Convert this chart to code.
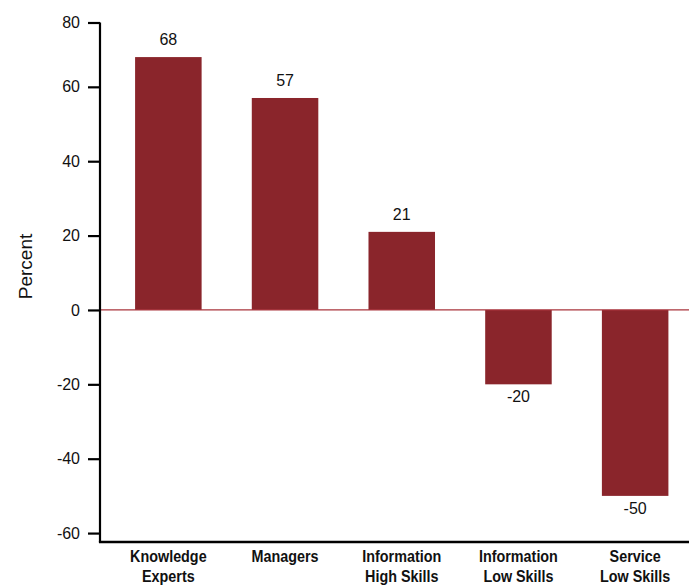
<!DOCTYPE html>
<html>
<head>
<meta charset="utf-8">
<script src="https://cdn.jsdelivr.net/npm/d3@7"></script>
<style>
  html, body { margin: 0; padding: 0; background: #fff; }
  svg { display: block; }
</style>
</head>
<body>
<div id="wrapper"></div>
<script>
// data
const categories = [
  ["Knowledge", "Experts"],
  ["Managers"],
  ["Information", "High Skills"],
  ["Information", "Low Skills"],
  ["Service", "Low Skills"],
];
const values = [68, 57, 21, -20, -50];
const tickValues = [-60, -40, -20, 0, 20, 40, 60, 80];

function drawChart() {
  const dimensions = {
    width: 689,
    height: 586,
    axisX: 100,
    top: 22.5,
    bottom: 542,
  };

  const svg = d3
    .select("#wrapper")
    .append("svg")
    .attr("width", dimensions.width)
    .attr("height", dimensions.height);

  // scales (the top of the axis is labelled 80 in the original, though it sits at ~77)
  const yTop = 77.3;
  const yScale = d3
    .scaleLinear()
    .domain([-62.4, yTop])
    .range([dimensions.bottom, dimensions.top]);

  const xScale = d3
    .scaleBand()
    .domain(d3.range(values.length))
    .range([110, 693.5])
    .paddingInner(0.43)
    .paddingOuter(0.215);

  // bars
  svg
    .append("g")
    .selectAll("rect")
    .data(values)
    .join("rect")
    .attr("x", (d, i) => xScale(i))
    .attr("width", xScale.bandwidth())
    .attr("y", (d) => yScale(Math.max(0, d)))
    .attr("height", (d) => Math.abs(yScale(d) - yScale(0)))
    .attr("fill", "#8a252b");

  // zero line
  svg
    .append("line")
    .attr("x1", dimensions.axisX)
    .attr("x2", dimensions.width)
    .attr("y1", yScale(0))
    .attr("y2", yScale(0))
    .attr("stroke", "#a9353c")
    .attr("stroke-width", 1.3);

  // value labels
  svg
    .append("g")
    .selectAll("text")
    .data(values)
    .join("text")
    .attr("x", (d, i) => xScale(i) + xScale.bandwidth() / 2)
    .attr("y", (d) => (d >= 0 ? yScale(d) - 12 : yScale(d) + 18))
    .attr("text-anchor", "middle")
    .style("font-family", "'Liberation Sans', Arial, sans-serif")
    .style("font-size", "16px")
    .style("fill", "#111")
    .text((d) => d);

  // y axis
  const yAxisGenerator = d3
    .axisLeft(yScale)
    .tickValues(tickValues.map((t) => (t === 80 ? yTop : t)))
    .tickFormat((t) => (t === yTop ? "80" : t))
    .tickSize(12)
    .tickSizeOuter(0)
    .tickPadding(8);

  const yAxis = svg
    .append("g")
    .attr("transform", `translate(${dimensions.axisX},0)`)
    .call(yAxisGenerator);

  yAxis.select(".domain")
    .attr("stroke", "#000")
    .attr("stroke-width", 2.2)
    .attr("d", `M0,${dimensions.top}V${dimensions.bottom}`);
  yAxis.selectAll(".tick line").attr("stroke", "#000").attr("stroke-width", 2.2);
  yAxis
    .selectAll(".tick text")
    .style("font-family", "'Liberation Sans', Arial, sans-serif")
    .style("font-size", "16px")
    .style("fill", "#111");

  // y axis label
  svg
    .append("text")
    .attr("transform", `translate(32,${(233 + 300) / 2}) rotate(-90)`)
    .attr("text-anchor", "middle")
    .style("font-family", "'Liberation Sans', Arial, sans-serif")
    .style("font-size", "19px")
    .style("fill", "#111")
    .text("Percent");

  // x axis line
  svg
    .append("line")
    .attr("x1", dimensions.axisX - 1.1)
    .attr("x2", dimensions.width)
    .attr("y1", dimensions.bottom)
    .attr("y2", dimensions.bottom)
    .attr("stroke", "#000")
    .attr("stroke-width", 2.6);

  // category labels, squeezed to look like a condensed bold face
  const catLabels = svg
    .append("g")
    .selectAll("text")
    .data(categories)
    .join("text")
    .attr("transform", (d, i) =>
      `translate(${xScale(i) + xScale.bandwidth() / 2},562) scale(0.87,1)`)
    .attr("text-anchor", "middle")
    .style("font-family", "'Liberation Sans', Arial, sans-serif")
    .style("font-weight", "bold")
    .style("font-size", "16.5px")
    .style("fill", "#111");

  catLabels
    .selectAll("tspan")
    .data((d) => d)
    .join("tspan")
    .attr("x", 0)
    .attr("dy", (d, i) => (i === 0 ? 0 : 20))
    .text((d) => d);
}

drawChart();
</script>
</body>
</html>
